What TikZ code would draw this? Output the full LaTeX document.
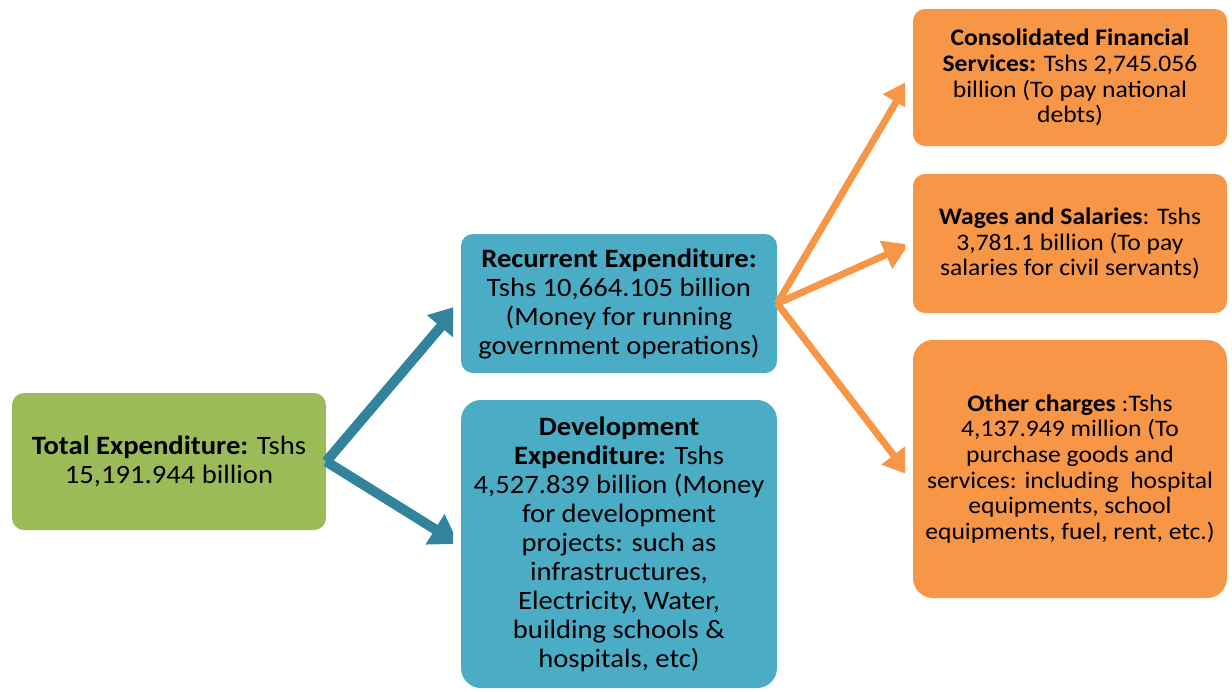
\documentclass[tikz,border=0pt]{standalone}
\usepackage{fontspec}
\setmainfont{Carlito}[FakeStretch=1.08]
\usetikzlibrary{arrows.meta}
\definecolor{cgreen}{HTML}{9BBB59}
\definecolor{cblue}{HTML}{4BACC6}
\definecolor{corange}{HTML}{F79646}
\definecolor{cteal}{HTML}{31849B}
\begin{document}
\begin{tikzpicture}[x=1pt,y=-1pt,
  box/.style={rounded corners=12pt, align=center, inner sep=0pt, text=black},
  bigtxt/.style={font=\fontsize{26.5}{29}\selectfont},
  smalltxt/.style={font=\fontsize{23.7}{25.7}\selectfont},
  greenbox/.style={box, fill=cgreen, bigtxt},
  bluebox/.style={box, fill=cblue, bigtxt},
  orangebox/.style={box, fill=corange, smalltxt},
  tealarrow/.style={draw=cteal, line width=10pt, -{Triangle[length=28pt,width=34pt]}},
  orangearrow/.style={draw=corange, line width=7pt, -{Triangle[length=25pt,width=29pt]}}]
\useasboundingbox (0,0) rectangle (1232,691);

\node[greenbox, minimum width=314pt, minimum height=137pt] (tot) at (169,461.5)
  {\textbf{Total Expenditure:} Tshs\\15,191.944 billion};

\node[bluebox, minimum width=316pt, minimum height=139pt] (rec) at (619,303.5)
  {\textbf{Recurrent Expenditure:}\\Tshs 10,664.105 billion\\(Money for running\\government operations)};

\node[bluebox, rounded corners=20pt, minimum width=316pt, minimum height=288pt] (dev) at (619,544)
  {\textbf{Development}\\\textbf{Expenditure:} Tshs\\4,527.839 billion (Money\\for development\\projects: such as\\infrastructures,\\Electricity, Water,\\building schools \&\\hospitals, etc)};

\node[orangebox, minimum width=314pt, minimum height=137pt] (cfs) at (1070,77.5)
  {\textbf{Consolidated Financial}\\\textbf{Services:} Tshs 2,745.056\\billion (To pay national\\debts)};

\node[orangebox, minimum width=314pt, minimum height=139pt] (wag) at (1070,243.5)
  {\textbf{Wages and Salaries}: Tshs\\3,781.1 billion (To pay\\salaries for civil servants)};

\node[orangebox, rounded corners=20pt, minimum width=314pt, minimum height=258pt] (oth) at (1070,469)
  {\textbf{Other charges} :Tshs\\4,137.949 million (To\\purchase goods and\\services: including\ \ hospital\\equipments, school\\equipments, fuel, rent, etc.)};

\begin{scope}
  \clip (0,0) rectangle (453,691);
  \draw[tealarrow] (tot.east) -- ([xshift=-2pt,yshift=-2pt]rec.west);
  \draw[tealarrow] (tot.east) -- ([xshift=-2pt]dev.west);
\end{scope}
\begin{scope}
  \clip (700,0) rectangle (905,691);
  \draw[orangearrow] (rec.east) -- ([xshift=-4pt,yshift=-3pt]cfs.west);
  \draw[orangearrow] (rec.east) -- ([xshift=-4pt,yshift=-1pt]wag.west);
  \draw[orangearrow] (rec.east) -- ([xshift=-4pt,yshift=-6pt]oth.west);
\end{scope}
\end{tikzpicture}
\end{document}
